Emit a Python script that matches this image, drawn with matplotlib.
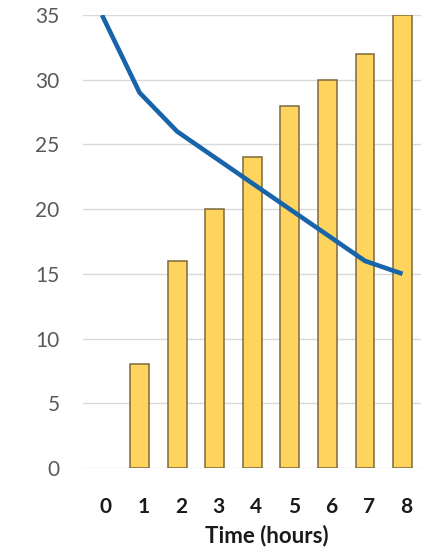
import matplotlib
matplotlib.use("Agg")
import matplotlib.pyplot as plt
import matplotlib.transforms as mtransforms

# Hourly readings
hours = [0, 1, 2, 3, 4, 5, 6, 7, 8]
bar_values = [0, 8, 16, 20, 24, 28, 30, 32, 35]
line_values = [35, 29, 26, 24, 22, 20, 18, 16, 15]
y_ticks = [0, 5, 10, 15, 20, 25, 30, 35]
x_tick_labels = ["0", "1", "2", "3", "4", "5", "6", "7", "8"]

plt.rcParams['font.family'] = ['Lato', 'DejaVu Sans']

fig = plt.figure(figsize=(4.22, 5.52), dpi=100)
ax = fig.add_axes([83.2 / 422, 1 - 468 / 552, (421.3 - 83.2) / 422, (468 - 15) / 552])

# zero-height bars are left out so no outline shows on the baseline
bx = [h for h, v in zip(hours, bar_values) if v > 0]
bv = [v for v in bar_values if v > 0]
ax.bar(bx, bv, width=0.5, color="#FFD45E", edgecolor="#7d6a3a",
       linewidth=1.1, zorder=2)
ax.plot(hours, line_values, color="#1764a8", linewidth=3.3, zorder=3,
        solid_capstyle="butt", solid_joinstyle="round")

ax.set_xlim(-0.5, 8.5)
ax.set_ylim(0, 35)
ax.set_yticks(y_ticks)
ax.set_xticks(hours)
ax.set_xticklabels(x_tick_labels)

ax.grid(axis="y", color="#d9d9d9", linewidth=1.0, zorder=0)
ax.set_axisbelow(True)
for s in ax.spines.values():
    s.set_visible(False)

ax.tick_params(axis="y", length=0, pad=17, labelsize=15, labelcolor="#595959")
ax.tick_params(axis="x", length=0, pad=21, labelsize=15, labelcolor="#1a1a1a")
offset = mtransforms.ScaledTranslation(4 / 100, 0, fig.dpi_scale_trans)
for lbl in ax.get_xticklabels():
    lbl.set_fontweight("bold")
    lbl.set_transform(lbl.get_transform() + offset)

ax.set_xlabel("Time (hours)", fontsize=16, fontweight="bold", color="#1a1a1a")
ax.xaxis.set_label_coords((266.5 - 83.2) / (421.3 - 83.2), -0.124)

fig.savefig("out.png", dpi=100, facecolor="white")
